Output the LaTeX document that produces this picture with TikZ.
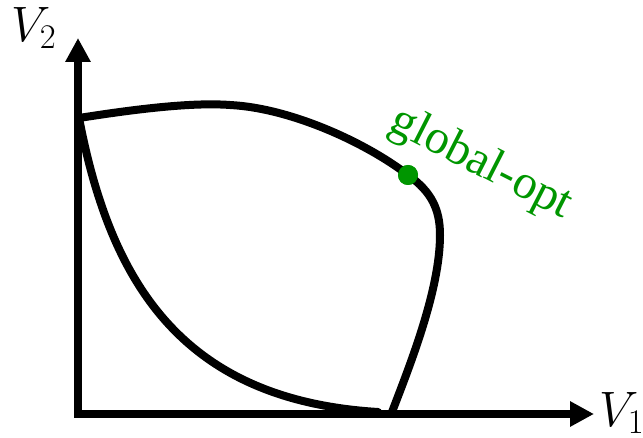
\documentclass[tikz,border=0pt]{standalone}
\usepackage{fontspec}
\setmainfont{Liberation Serif}
\usetikzlibrary{arrows.meta}
\definecolor{optgreen}{RGB}{0,150,0}

\begin{document}
\begin{tikzpicture}[x=0.5pt, y=-0.5pt,
  axis/.style={line width=4pt, line join=miter, {Triangle[length=12pt,width=12pt]}-{Triangle[length=12pt,width=12pt]}},
  front/.style={line width=4pt, line cap=round, line join=round},
  lbl/.style={font=\fontsize{23}{26}\selectfont, inner sep=0pt},
]
\useasboundingbox (0,0) rectangle (643,438);
% axes
\coordinate (O) at (78,414);
\coordinate (ytip) at (78,38);
\coordinate (xtip) at (594,414);
\draw[axis] (ytip) -- (O) -- (xtip);
\node[lbl] (v2) at (34,28) {$V_2$};
\node[lbl] (v1) at (622,413) {$V_1$};
% feasible region
\coordinate (A) at (79,118);
\coordinate (B) at (230,105);
\coordinate (E) at (440,235);
\coordinate (F) at (392,412);
\coordinate (G) at (378,412);
\node[circle, fill=optgreen, inner sep=0pt, minimum size=10pt] (opt) at (408,175) {};
\draw[front] (A) .. controls (130,110) and (190,102) .. (B)
  .. controls (290,108) and (365,142) .. (opt.center)
  .. controls (432,192) and (440,210) .. (E)
  .. controls (440,290) and (410,365) .. (F);
\draw[front] (A) .. controls (110,280) and (180,400) .. (G);
\node[circle, fill=optgreen, inner sep=0pt, minimum size=10pt] at (opt) {};
\node[lbl, text=optgreen, font=\fontsize{24}{26}\selectfont, rotate=-27] (optlabel) at (481,164) {global-opt};
\end{tikzpicture}
\end{document}
